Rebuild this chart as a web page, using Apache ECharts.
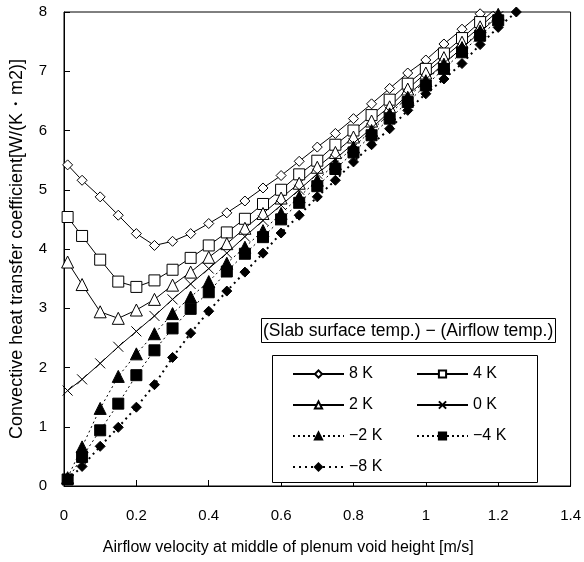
<!DOCTYPE html>
<html>
<head>
<meta charset="utf-8">
<script src="https://cdn.jsdelivr.net/npm/echarts@6/dist/echarts.min.js"></script>
<style>html,body{margin:0;padding:0;background:#fff}#c{width:584px;height:562px}</style>
</head>
<body>
<div id="c"></div>
<script>
const xValues = [0.01,0.05,0.10,0.15,0.20,0.25,0.30,0.35,0.40,0.45,0.50,0.55,0.60,0.65,0.70,0.75,0.80,0.85,0.90,0.95,1.00,1.05,1.10,1.15,1.20,1.25];
const s8K  = [5.42,5.16,4.88,4.57,4.26,4.06,4.13,4.26,4.43,4.61,4.81,5.03,5.24,5.48,5.72,5.95,6.20,6.45,6.71,6.97,7.19,7.46,7.71,7.97,8.22,null];
const s4K  = [4.54,4.22,3.82,3.45,3.36,3.47,3.65,3.85,4.06,4.28,4.51,4.76,5.00,5.26,5.49,5.76,6.00,6.26,6.52,6.79,7.04,7.30,7.56,7.83,8.09,null];
const s2K  = [3.78,3.40,2.94,2.83,2.97,3.15,3.39,3.61,3.86,4.09,4.35,4.60,4.86,5.11,5.38,5.63,5.89,6.16,6.40,6.70,6.97,7.23,7.49,7.75,8.02,null];
const s0K  = [1.61,1.80,2.07,2.35,2.61,2.87,3.15,3.41,3.67,3.93,4.21,4.48,4.74,5.00,5.27,5.52,5.78,6.04,6.32,6.60,6.86,7.13,7.39,7.66,7.93,null];
const sM2K = [0.14,0.66,1.31,1.85,2.23,2.57,2.91,3.19,3.45,3.76,4.03,4.31,4.60,4.88,5.16,5.44,5.72,6.00,6.28,6.56,6.84,7.12,7.40,7.68,7.96,null];
const sM4K = [0.11,0.49,0.94,1.39,1.87,2.29,2.66,2.99,3.27,3.62,3.92,4.20,4.50,4.78,5.06,5.35,5.63,5.92,6.20,6.48,6.76,7.04,7.32,7.60,7.86,null];
const sM8K = [0.10,0.33,0.67,0.99,1.33,1.71,2.17,2.58,2.95,3.29,3.61,3.93,4.27,4.57,4.88,5.16,5.47,5.76,6.03,6.34,6.62,6.87,7.13,7.45,7.74,8.00];
const seriesNames = ['8 K','4 K','2 K','0 K','\u22122 K','\u22124 K','\u22128 K'];
const xTicks = [0,0.2,0.4,0.6,0.8,1,1.2,1.4];
const yTicks = [0,1,2,3,4,5,6,7,8];
const xTitle = 'Airflow velocity at middle of plenum void height [m/s]';
const yTitle = 'Convective heat transfer coefficient[W/(K\u30FBm2)]';
const legendHeader = '(Slab surface temp.) \u2212 (Airflow temp.)';

const FONT = '"Liberation Sans", Arial, sans-serif';
const pairs = ys => xValues.map((x,i)=>[x, ys[i]]);
const crossPath = 'path://M0,0L10,10M10,0L0,10';

function mk(name, ys, symbol, size, filled, dashed, lw) {
  return {
    name, type:'line', data: pairs(ys), symbol, symbolSize: size,
    connectNulls:false,
    lineStyle:{color:'#000', width: lw, type: dashed ? [2,3] : 'solid'},
    itemStyle:{color: filled ? '#000' : '#fff', borderColor:'#000', borderWidth:1},
    emphasis:{disabled:true}, animation:false
  };
}

const series = [
  mk(seriesNames[0], s8K, 'diamond', 10, false, false, 1),
  mk(seriesNames[1], s4K, 'rect', 11, false, false, 1),
  mk(seriesNames[2], s2K, 'triangle', 12, false, false, 1),
  mk(seriesNames[3], s0K, crossPath, 10, false, false, 1),
  mk(seriesNames[4], sM2K, 'triangle', 12, true, true, 1),
  mk(seriesNames[5], sM4K, 'rect', 11, true, true, 1),
  mk(seriesNames[6], sM8K, 'diamond', 10, true, true, 2)
];
series[3].itemStyle = {color:'#000', borderColor:'#000', borderWidth:1};
series[6].lineStyle.type = [2,4];

const legendCommon = {orient:'vertical', top:366, padding:0, itemWidth:51, itemHeight:9, itemGap:15,
  textStyle:{fontFamily:FONT, fontSize:16, color:'#000'}, selectedMode:false, z:7};

const chart = echarts.init(document.getElementById('c'), null, {renderer:'canvas'});
chart.setOption({
  animation:false,
  backgroundColor:'#fff',
  grid:{left:64, right:13, top:12, bottom:76, show:true, borderColor:'#000', borderWidth:1, backgroundColor:'transparent'},
  xAxis:{
    type:'value', min:xTicks[0], max:xTicks[xTicks.length-1], interval:0.2,
    name:xTitle, nameLocation:'middle', nameGap:54,
    nameTextStyle:{fontFamily:FONT, fontSize:16, color:'#000', padding:[0,58,0,0]},
    axisLine:{lineStyle:{color:'#000', width:1}},
    axisTick:{inside:true, length:6, lineStyle:{color:'#000'}},
    axisLabel:{fontFamily:FONT, fontSize:15, color:'#000', margin:22},
    splitLine:{show:false}
  },
  yAxis:{
    type:'value', min:yTicks[0], max:yTicks[yTicks.length-1], interval:1,
    name:yTitle, nameLocation:'middle', nameGap:38,
    nameTextStyle:{fontFamily:FONT, fontSize:18, color:'#000'},
    axisLine:{lineStyle:{color:'#000', width:1}},
    axisTick:{inside:true, length:6, lineStyle:{color:'#000'}},
    axisLabel:{fontFamily:FONT, fontSize:15, color:'#000', margin:17},
    splitLine:{show:false}
  },
  title:{
    text:legendHeader, left:261, top:318,
    padding:[4,2,3,2], borderColor:'#000', borderWidth:1, backgroundColor:'#fff',
    textStyle:{fontFamily:FONT, fontSize:17.5, fontWeight:'normal', color:'#000'}, z:6
  },
  graphic:[{type:'rect', left:272, top:355, shape:{width:265, height:127}, style:{fill:'#fff', stroke:'#000', lineWidth:1}, z:5}],
  legend:[
    Object.assign({data:[seriesNames[0],seriesNames[2],seriesNames[4],seriesNames[6]], left:292}, legendCommon),
    Object.assign({data:[seriesNames[1],seriesNames[3],seriesNames[5]], left:416}, legendCommon)
  ],
  series
});
</script>
</body>
</html>
